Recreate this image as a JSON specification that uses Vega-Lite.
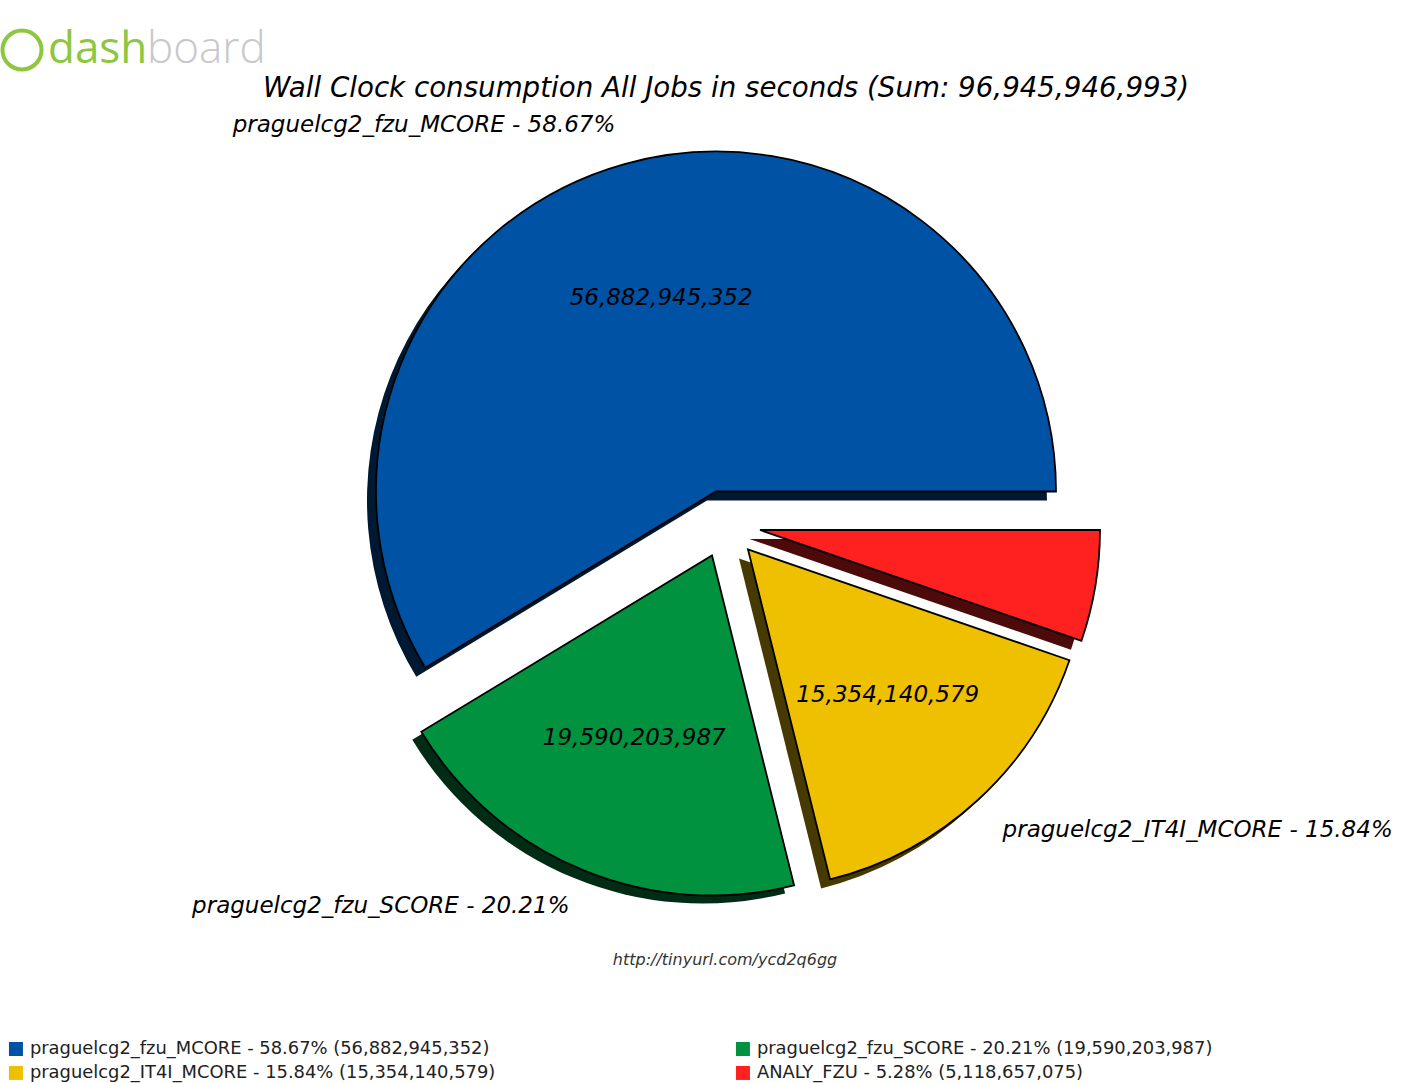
{
  "$schema": "https://vega.github.io/schema/vega-lite/v6.json",
  "width": 1402,
  "height": 1083,
  "autosize": {"type": "none"},
  "padding": 0,
  "background": "white",
  "config": {"view": {"stroke": null}},
  "data": {"values": [
    {"name": "praguelcg2_fzu_MCORE", "value": 56882945352, "label": "praguelcg2_fzu_MCORE - 58.67%", "valueLabel": "56,882,945,352", "legend": "praguelcg2_fzu_MCORE - 58.67% (56,882,945,352)"},
    {"name": "praguelcg2_fzu_SCORE", "value": 19590203987, "label": "praguelcg2_fzu_SCORE - 20.21%", "valueLabel": "19,590,203,987", "legend": "praguelcg2_fzu_SCORE - 20.21% (19,590,203,987)"},
    {"name": "praguelcg2_IT4I_MCORE", "value": 15354140579, "label": "praguelcg2_IT4I_MCORE - 15.84%", "valueLabel": "15,354,140,579", "legend": "praguelcg2_IT4I_MCORE - 15.84% (15,354,140,579)"},
    {"name": "ANALY_FZU", "value": 5118657075, "label": "", "valueLabel": "", "legend": "ANALY_FZU - 5.28% (5,118,657,075)"}
  ]},
  "transform": [
    {"stack": "value", "groupby": [], "sort": [{"field": "value", "order": "descending"}], "as": ["v0", "v1"]},
    {"calculate": "(datum.v0 + datum.v1) / 2", "as": "mid"}
  ],
  "layer": [
    {
      "data": {"values": [{"t": ""}]},
      "mark": {"type": "rule", "x": 0, "x2": 1402, "y": 15, "stroke": "#eeeeee", "strokeWidth": 1.5},
      "encoding": {}
    },
    {
      "data": {"values": [{"t": ""}]},
      "mark": {"type": "point", "shape": "circle", "x": 22, "y": 50, "size": 1521, "filled": false, "stroke": "#8DC63F", "strokeWidth": 4, "opacity": 1},
      "encoding": {}
    },
    {
      "data": {"values": [{"t": "dash"}]},
      "mark": {"type": "text", "x": 48, "y": 63, "align": "left", "baseline": "alphabetic", "font": "Open Sans", "fontWeight": 400, "fontSize": 44, "fill": "#8DC63F"},
      "encoding": {"text": {"field": "t"}}
    },
    {
      "data": {"values": [{"t": "board"}]},
      "mark": {"type": "text", "x": 147, "y": 63, "align": "left", "baseline": "alphabetic", "font": "Open Sans", "fontWeight": 300, "fontSize": 44, "fill": "#C8C8C8"},
      "encoding": {"text": {"field": "t"}}
    },
    {
      "data": {"values": [{"t": "Wall Clock consumption All Jobs in seconds (Sum: 96,945,946,993)"}]},
      "mark": {"type": "text", "x": 726, "y": 97, "align": "center", "baseline": "alphabetic", "font": "DejaVu Sans", "fontStyle": "italic", "fontSize": 27.7, "fill": "#000000"},
      "encoding": {"text": {"field": "t"}}
    },
    {
      "data": {"values": [{"t": "http://tinyurl.com/ycd2q6gg"}]},
      "mark": {"type": "text", "x": 725, "y": 965, "align": "center", "baseline": "alphabetic", "font": "DejaVu Sans", "fontStyle": "italic", "fontSize": 16, "fill": "#333333"},
      "encoding": {"text": {"field": "t"}}
    },
    {
      "transform": [{"filter": "datum.name === 'praguelcg2_fzu_MCORE'"}],
      "mark": {"type": "arc", "radius": 340, "xOffset": 6, "yOffset": -41, "fill": "#001932"},
      "encoding": {
        "theta": {"field": "v0", "type": "quantitative", "stack": null, "scale": {"domain": [0, 96945946993], "range": [1.5707963, -4.712389], "nice": false, "zero": false}},
        "theta2": {"field": "v1"}
      }
    },
    {
      "transform": [{"filter": "datum.name === 'praguelcg2_fzu_SCORE'"}],
      "mark": {"type": "arc", "radius": 340, "xOffset": 2, "yOffset": 22, "fill": "#002b14"},
      "encoding": {
        "theta": {"field": "v0", "type": "quantitative", "stack": null, "scale": {"domain": [0, 96945946993], "range": [1.5707963, -4.712389], "nice": false, "zero": false}},
        "theta2": {"field": "v1"}
      }
    },
    {
      "transform": [{"filter": "datum.name === 'praguelcg2_IT4I_MCORE'"}],
      "mark": {"type": "arc", "radius": 340, "xOffset": 38, "yOffset": 17, "fill": "#473a00"},
      "encoding": {
        "theta": {"field": "v0", "type": "quantitative", "stack": null, "scale": {"domain": [0, 96945946993], "range": [1.5707963, -4.712389], "nice": false, "zero": false}},
        "theta2": {"field": "v1"}
      }
    },
    {
      "transform": [{"filter": "datum.name === 'ANALY_FZU'"}],
      "mark": {"type": "arc", "radius": 340, "xOffset": 48.5, "yOffset": -2.5, "fill": "#4d0a0a"},
      "encoding": {
        "theta": {"field": "v0", "type": "quantitative", "stack": null, "scale": {"domain": [0, 96945946993], "range": [1.5707963, -4.712389], "nice": false, "zero": false}},
        "theta2": {"field": "v1"}
      }
    },
    {
      "transform": [{"filter": "datum.name === 'praguelcg2_fzu_MCORE'"}],
      "mark": {"type": "arc", "radius": 340, "xOffset": 15, "yOffset": -50, "stroke": "#000000", "strokeWidth": 1.8},
      "encoding": {
        "theta": {"field": "v0", "type": "quantitative", "stack": null, "scale": {"domain": [0, 96945946993], "range": [1.5707963, -4.712389], "nice": false, "zero": false}},
        "theta2": {"field": "v1"},
        "color": {"field": "legend", "type": "nominal", "scale": {"domain": ["praguelcg2_fzu_MCORE - 58.67% (56,882,945,352)", "praguelcg2_IT4I_MCORE - 15.84% (15,354,140,579)", "praguelcg2_fzu_SCORE - 20.21% (19,590,203,987)", "ANALY_FZU - 5.28% (5,118,657,075)"], "range": ["#0052A5", "#EEC000", "#00923F", "#FF2020"]},
          "legend": {"title": null, "orient": "none", "legendX": 7, "legendY": 1040, "columns": 2, "columnPadding": 238, "rowPadding": 5, "padding": 0, "symbolType": "square", "symbolSize": 196, "symbolStrokeWidth": 0, "labelFont": "DejaVu Sans", "labelFontSize": 17.9, "labelColor": "#222222", "labelOffset": 5, "labelLimit": 700}}
      }
    },
    {
      "transform": [{"filter": "datum.name === 'praguelcg2_fzu_SCORE'"}],
      "mark": {"type": "arc", "radius": 340, "xOffset": 11, "yOffset": 14, "stroke": "#000000", "strokeWidth": 1.8},
      "encoding": {
        "theta": {"field": "v0", "type": "quantitative", "stack": null, "scale": {"domain": [0, 96945946993], "range": [1.5707963, -4.712389], "nice": false, "zero": false}},
        "theta2": {"field": "v1"},
        "color": {"field": "legend", "type": "nominal"}
      }
    },
    {
      "transform": [{"filter": "datum.name === 'praguelcg2_IT4I_MCORE'"}],
      "mark": {"type": "arc", "radius": 340, "xOffset": 47, "yOffset": 8, "stroke": "#000000", "strokeWidth": 1.8},
      "encoding": {
        "theta": {"field": "v0", "type": "quantitative", "stack": null, "scale": {"domain": [0, 96945946993], "range": [1.5707963, -4.712389], "nice": false, "zero": false}},
        "theta2": {"field": "v1"},
        "color": {"field": "legend", "type": "nominal"}
      }
    },
    {
      "transform": [{"filter": "datum.name === 'ANALY_FZU'"}],
      "mark": {"type": "arc", "radius": 340, "xOffset": 59, "yOffset": -11.5, "stroke": "#000000", "strokeWidth": 1.8},
      "encoding": {
        "theta": {"field": "v0", "type": "quantitative", "stack": null, "scale": {"domain": [0, 96945946993], "range": [1.5707963, -4.712389], "nice": false, "zero": false}},
        "theta2": {"field": "v1"},
        "color": {"field": "legend", "type": "nominal"}
      }
    },
    {
      "transform": [{"filter": "datum.name === 'praguelcg2_fzu_MCORE'"}],
      "mark": {"type": "text", "radius": 204, "xOffset": 15, "yOffset": -47, "align": "center", "baseline": "middle", "font": "DejaVu Sans", "fontStyle": "italic", "fontSize": 23, "fill": "#000000"},
      "encoding": {
        "theta": {"field": "mid", "type": "quantitative", "stack": null, "scale": {"domain": [0, 96945946993], "range": [1.5707963, -4.712389], "nice": false, "zero": false}},
        "text": {"field": "valueLabel"}
      }
    },
    {
      "transform": [{"filter": "datum.name === 'praguelcg2_fzu_SCORE'"}],
      "mark": {"type": "text", "radius": 204, "xOffset": 11, "yOffset": 8, "align": "center", "baseline": "middle", "font": "DejaVu Sans", "fontStyle": "italic", "fontSize": 23, "fill": "#000000"},
      "encoding": {
        "theta": {"field": "mid", "type": "quantitative", "stack": null, "scale": {"domain": [0, 96945946993], "range": [1.5707963, -4.712389], "nice": false, "zero": false}},
        "text": {"field": "valueLabel"}
      }
    },
    {
      "transform": [{"filter": "datum.name === 'praguelcg2_IT4I_MCORE'"}],
      "mark": {"type": "text", "radius": 204, "xOffset": 49, "yOffset": 3, "align": "center", "baseline": "middle", "font": "DejaVu Sans", "fontStyle": "italic", "fontSize": 23, "fill": "#000000"},
      "encoding": {
        "theta": {"field": "mid", "type": "quantitative", "stack": null, "scale": {"domain": [0, 96945946993], "range": [1.5707963, -4.712389], "nice": false, "zero": false}},
        "text": {"field": "valueLabel"}
      }
    },
    {
      "transform": [{"filter": "datum.name === 'praguelcg2_fzu_MCORE'"}],
      "mark": {"type": "text", "radius": 374, "xOffset": 15, "yOffset": -56, "align": "right", "baseline": "middle", "font": "DejaVu Sans", "fontStyle": "italic", "fontSize": 23, "fill": "#000000"},
      "encoding": {
        "theta": {"field": "mid", "type": "quantitative", "stack": null, "scale": {"domain": [0, 96945946993], "range": [1.5707963, -4.712389], "nice": false, "zero": false}},
        "text": {"field": "label"}
      }
    },
    {
      "transform": [{"filter": "datum.name === 'praguelcg2_fzu_SCORE'"}],
      "mark": {"type": "text", "radius": 374, "xOffset": 11, "yOffset": 19, "align": "right", "baseline": "middle", "font": "DejaVu Sans", "fontStyle": "italic", "fontSize": 23, "fill": "#000000"},
      "encoding": {
        "theta": {"field": "mid", "type": "quantitative", "stack": null, "scale": {"domain": [0, 96945946993], "range": [1.5707963, -4.712389], "nice": false, "zero": false}},
        "text": {"field": "label"}
      }
    },
    {
      "transform": [{"filter": "datum.name === 'praguelcg2_IT4I_MCORE'"}],
      "mark": {"type": "text", "radius": 374, "xOffset": 49, "yOffset": 13, "align": "left", "baseline": "middle", "font": "DejaVu Sans", "fontStyle": "italic", "fontSize": 23, "fill": "#000000"},
      "encoding": {
        "theta": {"field": "mid", "type": "quantitative", "stack": null, "scale": {"domain": [0, 96945946993], "range": [1.5707963, -4.712389], "nice": false, "zero": false}},
        "text": {"field": "label"}
      }
    }
  ]
}
